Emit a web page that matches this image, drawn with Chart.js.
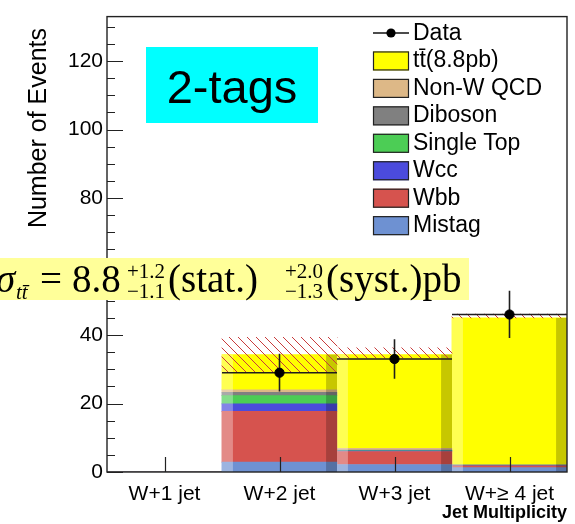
<!DOCTYPE html>
<html>
<head>
<meta charset="utf-8">
<script src="https://cdn.jsdelivr.net/npm/chart.js@4.4.1/dist/chart.umd.min.js"></script>
<style>
  html, body { margin: 0; padding: 0; background: #fff; }
  #wrap { position: relative; width: 575px; height: 524px; }
</style>
</head>
<body>
<div id="wrap"><canvas id="jets"></canvas></div>
<script>
/* Jet multiplicity, 2 b-tags: stacked predictions, data and xsec box */

const BINS = ['W+1 jet', 'W+2 jet', 'W+3 jet', 'W+\u2265 4 jet'];

// expected events per bin, bottom of the stack first
const MISTAG    = [0, 2.9, 2.2, 1.3];
const WBB       = [0, 14.8, 3.8, 0.5];
const WCC       = [0, 2.2, 0.2, 0.1];
const SINGLETOP = [0, 2.4, 0.15, 0.1];
const DIBOSON   = [0, 1.0, 0.05, 0.05];
const NONW_QCD  = [0, 0.7, 0.5, 0.1];
const TTBAR     = [0, 10.3, 27.4, 42.85];

// hatched uncertainty on the total
const BAND_LO = [null, 29.3, 33.3, 45.0];
const BAND_HI = [null, 39.3, 36.3, 46.1];

// observed
const DATA     = [null, 29, 33, 46];
const DATA_ERR = [null, 5.5, 5.8, 6.9];

const Y_LABELS = [0, 20, 40, 60, 80, 100, 120];
const Y_MAX = 133;

// name, colour, values  (stack order)
const MC = [
  ['Mistag',     '#6e91d2', MISTAG],
  ['Wbb',        '#d6534e', WBB],
  ['Wcc',        '#4b4bdc', WCC],
  ['Single Top', '#4ccd55', SINGLETOP],
  ['Diboson',    '#808080', DIBOSON],
  ['Non-W QCD',  '#ddb887', NONW_QCD],
  ['tt\u0304(8.8pb)', '#ffff00', TTBAR]
];
const BAND_INDEX = MC.length;

Chart.defaults.font.family = "'Liberation Sans', Arial, Helvetica, sans-serif";
Chart.defaults.color = '#000';

const canvas = document.getElementById('jets');
const ctx0 = canvas.getContext('2d');

// red diagonal hatching for the error band
const hatch = (() => {
  const c = document.createElement('canvas');
  c.width = 9; c.height = 9;
  const g = c.getContext('2d');
  g.strokeStyle = '#c83c3c';
  g.lineWidth = 1;
  g.beginPath();
  g.moveTo(0, 0); g.lineTo(9, 9);
  g.moveTo(-1, 8); g.lineTo(1, 10);
  g.moveTo(8, -1); g.lineTo(10, 1);
  g.stroke();
  return ctx0.createPattern(c, 'repeat');
})();

// data: horizontal bin-width line + vertical error, broken by nulls
const errSegments = [];
const dataPoints = [];
DATA.forEach((n, i) => {
  if (n == null) return;
  errSegments.push({x: i - 0.5, y: n}, {x: i + 0.5, y: n}, {x: i, y: null});
  errSegments.push({x: i, y: n - DATA_ERR[i]}, {x: i, y: n + DATA_ERR[i]}, {x: i, y: null});
  dataPoints.push({x: i, y: n});
});

const barCommon = { borderWidth: 0, barPercentage: 1, categoryPercentage: 1, grouped: false };

const datasets = MC.map(([label, color, vals]) => ({
  type: 'bar', label, data: vals, backgroundColor: color, ...barCommon,
  stack: 'mc', xAxisID: 'x', yAxisID: 'y', order: 3
}));
datasets.push({
  type: 'bar', label: 'band', data: BAND_LO.map((lo, i) => lo == null ? null : [lo, BAND_HI[i]]),
  backgroundColor: hatch, ...barCommon, xAxisID: 'xb', yAxisID: 'yd', order: 2
});
datasets.push({
  type: 'line', label: 'err', data: errSegments, borderColor: '#1e1e1e', borderWidth: 1.6,
  pointRadius: 0, spanGaps: false, xAxisID: 'xd', yAxisID: 'yd', order: 1
});
datasets.push({
  type: 'scatter', label: 'Data', data: dataPoints, showLine: false,
  pointRadius: 4.6, backgroundColor: '#000', borderColor: '#000',
  xAxisID: 'xd', yAxisID: 'yd', order: 0
});

// lighter left / darker right strip on each histogram bin
const binShade = {
  id: 'binShade',
  beforeDatasetDraw(chart, args) {
    if (args.index !== BAND_INDEX) return;
    const ctx = chart.ctx;
    const y0 = chart.scales.y.getPixelForValue(0);
    BINS.forEach((_, j) => {
      let top = y0, x = 0, w = 0;
      for (let d = 0; d < MC.length; d++) {
        const bar = chart.getDatasetMeta(d).data[j];
        if (bar.y < top) top = bar.y;
        x = bar.x; w = bar.width;
      }
      if (top >= y0 - 0.5) return;
      const left = x - w / 2, strip = w * 0.095;
      ctx.save();
      ctx.fillStyle = 'rgba(255,255,255,0.32)';
      ctx.fillRect(left, top, strip, y0 - top);
      ctx.fillStyle = 'rgba(0,0,0,0.22)';
      ctx.fillRect(left + w - strip, top, strip, y0 - top);
      ctx.restore();
    });
  }
};

// frame with ROOT style inward ticks
const frame = {
  id: 'frame',
  afterDatasetsDraw(chart) {
    const {ctx, chartArea: a, scales} = chart;
    ctx.save();
    ctx.strokeStyle = '#222';
    ctx.lineWidth = 1.4;
    ctx.strokeRect(a.left, a.top, a.right - a.left, a.bottom - a.top);
    ctx.lineWidth = 1.2;
    ctx.beginPath();
    scales.y.ticks.forEach(t => {
      const py = Math.round(scales.y.getPixelForValue(t.value)) + 0.5;
      const len = Y_LABELS.includes(t.value) ? 16 : 8;
      ctx.moveTo(a.left, py); ctx.lineTo(a.left + len, py);
    });
    scales.x.ticks.forEach((t, i) => {
      const px = Math.round(scales.x.getPixelForTick(i)) + 0.5;
      ctx.moveTo(px, a.bottom); ctx.lineTo(px, a.bottom - 15);
    });
    ctx.stroke();
    ctx.restore();
  }
};

// legend, tag box, cross section box, y title
const overlays = {
  id: 'overlays',
  afterDraw(chart) {
    const ctx = chart.ctx;
    ctx.save();

    // y axis title
    ctx.save();
    ctx.translate(39, 28);
    ctx.rotate(-Math.PI / 2);
    ctx.font = "25px 'Liberation Sans', Arial, sans-serif";
    ctx.fillStyle = '#000';
    ctx.textAlign = 'right';
    ctx.textBaseline = 'middle';
    ctx.fillText('Number of Events', 0, 0);
    ctx.restore();

    // legend
    const lx = 373, ly = 40, dy = 27.45;
    ctx.font = "23px 'Liberation Sans', Arial, sans-serif";
    ctx.textBaseline = 'alphabetic';
    ctx.fillStyle = '#000';
    ctx.strokeStyle = '#111';
    ctx.lineWidth = 1.4;
    ctx.beginPath();
    ctx.moveTo(lx, ly - 7); ctx.lineTo(lx + 36, ly - 7);
    ctx.stroke();
    ctx.beginPath();
    ctx.arc(lx + 18, ly - 7, 4.6, 0, Math.PI * 2);
    ctx.fill();
    ctx.fillText('Data', lx + 40, ly);
    MC.slice().reverse().forEach(([label, color], k) => {
      const base = ly + dy * (k + 1);
      ctx.fillStyle = color;
      ctx.fillRect(lx, base - 16, 36, 19);
      ctx.lineWidth = 1.2;
      ctx.strokeStyle = '#222';
      ctx.strokeRect(lx + 0.5, base - 15.5, 35, 18);
      ctx.fillStyle = '#000';
      ctx.fillText(label, lx + 40, base);
    });

    // 2-tags label
    ctx.fillStyle = '#00ffff';
    ctx.fillRect(146, 47, 172, 76);
    ctx.fillStyle = '#000';
    ctx.font = "47px 'Liberation Sans', Arial, sans-serif";
    ctx.textAlign = 'center';
    ctx.fillText('2-tags', 232, 103);

    // measured cross section
    ctx.fillStyle = '#ffff99';
    ctx.fillRect(0, 258, 469, 42);
    ctx.fillStyle = '#000';
    ctx.textAlign = 'left';
    const serif = "'Liberation Serif', 'Times New Roman', serif";
    const main = 39, scr = 21, base = 292;
    ctx.font = `italic ${main}px ${serif}`;
    ctx.fillText('\u03c3', -4, base);
    ctx.font = `italic ${scr}px ${serif}`;
    ctx.fillText('tt\u0304', 16, base + 7);
    ctx.font = `${main}px ${serif}`;
    ctx.fillText('=', 40, base);
    ctx.fillText('8.8', 72, base);
    ctx.fillText('(stat.)', 168, base);
    ctx.fillText('(syst.)pb', 326, base);
    ctx.font = `${scr}px ${serif}`;
    ctx.fillText('+1.2', 127, base - 14);
    ctx.fillText('\u22121.1', 127, base + 6);
    ctx.fillText('+2.0', 285, base - 14);
    ctx.fillText('\u22121.3', 285, base + 6);

    ctx.restore();
  }
};

new Chart(canvas, {
  data: { labels: BINS, datasets },
  options: {
    responsive: true,
    maintainAspectRatio: false,
    animation: false,
    layout: { padding: { top: 9, right: 8, bottom: 0, left: 0 } },
    plugins: { legend: { display: false }, tooltip: { enabled: false } },
    scales: {
      x: {
        type: 'category', stacked: true, offset: true,
        grid: { display: false, drawTicks: false }, border: { display: false },
        ticks: { font: { size: 21 }, color: '#000', padding: 10, maxRotation: 0, autoSkip: false },
        title: { display: true, text: 'Jet Multiplicity', align: 'end', color: '#000',
                 font: { size: 18, weight: 'bold' }, padding: { top: 0, bottom: 0 } },
        afterFit: s => { s.height = 52; }
      },
      xb: { type: 'category', labels: BINS, offset: true, display: false },
      xd: { type: 'linear', min: -0.5, max: BINS.length - 0.5, display: false },
      y: {
        stacked: true, min: 0, max: Y_MAX,
        grid: { display: false, drawTicks: false }, border: { display: false },
        ticks: {
          stepSize: 5, autoSkip: false, includeBounds: false, padding: 4,
          font: { size: 21 }, color: '#000',
          callback: v => Y_LABELS.includes(v) ? String(v) : ''
        },
        afterFit: s => { s.width = 107; }
      },
      yd: { type: 'linear', min: 0, max: Y_MAX, display: false }
    }
  },
  plugins: [binShade, frame, overlays]
});
</script>
</body>
</html>
